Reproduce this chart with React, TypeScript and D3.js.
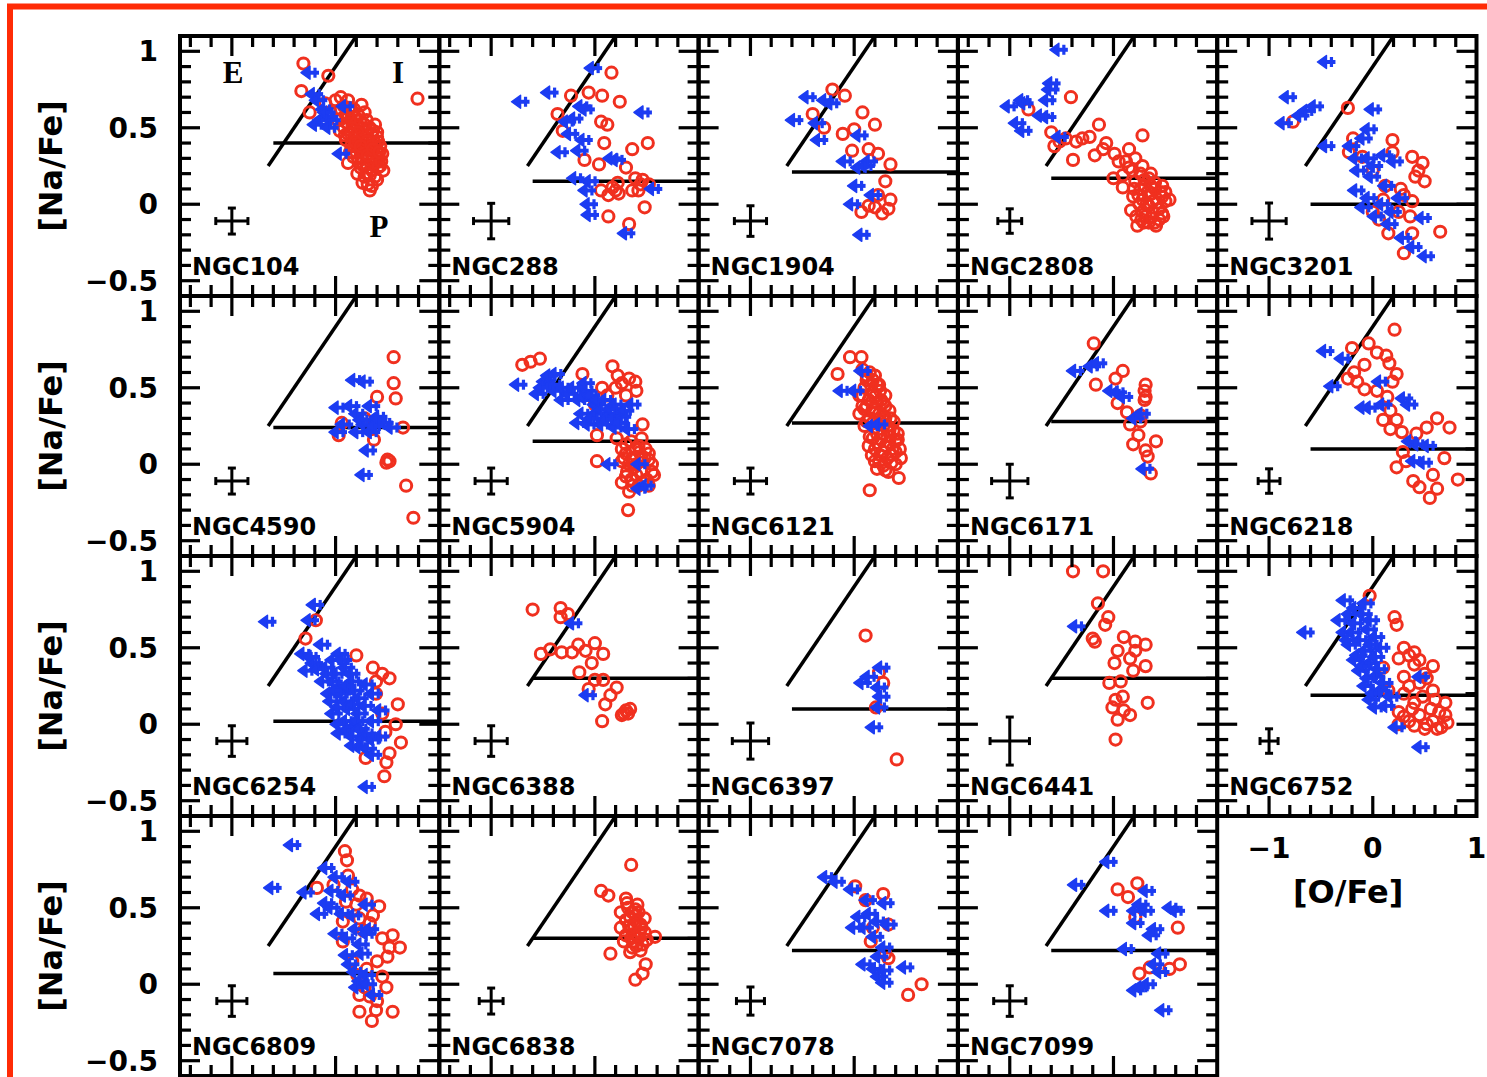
import React from "react";
import * as d3 from "d3";

// Page and grid geometry
const WIDTH = 1487;
const HEIGHT = 1077;
const GRID_LEFT = 180;
const GRID_TOP = 36;
const CELL_W = 259.3;
const CELL_H = 260;
const COLS = 5;

// Axis domains and ticks
const xDomain: [number, number] = [-1.5, 1];
const yDomain: [number, number] = [-0.6, 1.1];
const xMajorTicks = [-1, 0];
const xMinorTicks = [-1.4, -1.2, -0.8, -0.6, -0.4, -0.2, 0.2, 0.4, 0.6, 0.8];
const yMajorTicks = [-0.5, 0, 0.5, 1];
const yMinorTicks = [-0.4, -0.3, -0.2, -0.1, 0.1, 0.2, 0.3, 0.4, 0.6, 0.7, 0.8, 0.9];
const yTickLabels = ["\u22120.5", "0", "0.5", "1"];
const xTickValues = [-1, 0, 1];
const xTickLabels = ["\u22121", "0", "1"];

// PIE boundaries: extreme stars have [O/Na] < -0.9; the E line starts at [O/Fe] = -0.65
const oNaExtremeCut = -0.9;
const eLineStartO = -0.65;
const pLineStartO = -0.6;
const errCrossCenter: [number, number] = [-1, -0.11];

const clusterNames = [
  "NGC104", "NGC288", "NGC1904", "NGC2808", "NGC3201",
  "NGC4590", "NGC5904", "NGC6121", "NGC6171", "NGC6218",
  "NGC6254", "NGC6388", "NGC6397", "NGC6441", "NGC6752",
  "NGC6809", "NGC6838", "NGC7078", "NGC7099",
];
// Primordial upper boundary in [Na/Fe] per cluster
const naPrimordialCut = [0.40, 0.15, 0.21, 0.17, 0.0, 0.24, 0.15, 0.27, 0.28, 0.10, 0.02, 0.30, 0.10, 0.30, 0.19, 0.07, 0.30, 0.22, 0.22];
// Typical errors (half-widths) in [O/Fe] and [Na/Fe]
const errOFe = [0.155, 0.17, 0.155, 0.115, 0.165, 0.155, 0.155, 0.155, 0.175, 0.105, 0.145, 0.155, 0.175, 0.19, 0.087, 0.145, 0.115, 0.135, 0.155];
const errNaFe = [0.085, 0.116, 0.1, 0.08, 0.118, 0.085, 0.085, 0.085, 0.11, 0.08, 0.1, 0.1, 0.118, 0.157, 0.08, 0.1, 0.085, 0.092, 0.1];

type P = [number, number];

// [O/Fe], [Na/Fe] for stars with O detections (red) and O upper limits (blue)
const ngc104Det: P[] = [[-0.31,0.92],[-0.07,0.84],[-0.33,0.74],[0.79,0.69],[0.12,0.68],[0.28,0.60],[-0.25,0.60],[0.33,0.09],[0.40,0.16],[0.43,0.25],[0.43,0.38],[0.40,0.44],[0.17,0.31],[0.12,0.27],[0.21,0.20],[0.05,0.62],[0.10,0.58],[0.15,0.55],[0.20,0.52],[0.25,0.50],[0.30,0.48],[0.35,0.45],[0.08,0.50],[0.12,0.46],[0.18,0.44],[0.22,0.40],[0.28,0.38],[0.32,0.35],[0.36,0.30],[0.20,0.34],[0.25,0.30],[0.30,0.26],[0.35,0.22],[0.28,0.18],[0.15,0.38],[0.10,0.42],[0.02,0.55],[-0.05,0.60],[0.00,0.68],[0.05,0.70],[-0.10,0.66],[0.22,0.58],[0.30,0.55],[0.38,0.52],[0.40,0.35],[0.33,0.42],[0.27,0.45],[0.38,0.40],[0.42,0.30],[0.24,0.24],[0.31,0.13],[0.45,0.33],[0.46,0.22],[0.18,0.62],[0.25,0.65],
  [0.08,0.64],[0.13,0.63],[0.18,0.57],[0.24,0.55],[0.28,0.52],[0.33,0.50],[0.36,0.48],[0.40,0.47],[0.06,0.56],[0.11,0.53],[0.16,0.50],[0.21,0.47],[0.26,0.42],[0.30,0.41],[0.35,0.38],[0.41,0.41],[0.14,0.34],[0.18,0.38],[0.23,0.36],[0.27,0.33],[0.32,0.30],[0.37,0.27],[0.41,0.24],[0.22,0.28],[0.27,0.25],[0.33,0.19],[0.38,0.18],[0.26,0.14],[0.35,0.12],[0.30,0.20],[0.44,0.28],[0.04,0.48],[0.09,0.45],[0.15,0.46],[0.19,0.41],[0.24,0.38],[0.31,0.32],[0.36,0.36],[0.42,0.34],[0.12,0.58]];
const ngc104Lim: P[] = [[-0.16,0.86],[-0.12,0.72],[-0.10,0.52],[0.18,0.64],[0.02,0.57],[-0.02,0.62],[0.05,0.55],[0.14,0.33],[-0.05,0.55],[0.00,0.60],[-0.08,0.68],[0.03,0.50]];

const ngc288Det: P[] = [[0.16,0.86],[-0.23,0.71],[-0.06,0.73],[0.07,0.71],[0.24,0.67],[-0.36,0.59],[0.06,0.54],[0.12,0.52],[-0.31,0.48],[0.09,0.40],[0.36,0.36],[0.51,0.40],[-0.10,0.29],[0.30,0.24],[0.04,0.26],[0.39,0.17],[0.46,0.16],[0.17,0.11],[0.23,0.07],[0.13,0.06],[0.36,0.09],[0.42,0.09],[0.52,0.13],[0.48,-0.02],[0.13,-0.08],[0.33,-0.13],[0.06,0.09],[0.22,0.14],[0.44,0.13],[0.20,0.09]];
const ngc288Lim: P[] = [[0.07,0.89],[-0.63,0.67],[-0.35,0.73],[-0.04,0.64],[0.00,0.62],[0.55,0.60],[-0.11,0.56],[-0.18,0.54],[-0.15,0.46],[-0.02,0.42],[-0.25,0.34],[-0.06,0.35],[0.30,0.29],[0.25,0.30],[-0.10,0.17],[0.04,0.15],[0.01,0.09],[0.65,0.10],[0.03,0.00],[0.04,-0.07],[0.39,-0.19]];

const ngc1904Det: P[] = [[-0.21,0.75],[-0.09,0.71],[-0.40,0.59],[-0.29,0.50],[0.08,0.60],[0.20,0.52],[-0.11,0.46],[0.00,0.49],[0.14,0.36],[-0.02,0.35],[0.23,0.33],[0.35,0.26],[0.30,0.15],[0.35,0.03],[0.23,0.06],[0.14,-0.01],[0.33,-0.03],[0.07,-0.05],[0.27,-0.06],[0.20,-0.02]];
const ngc1904Lim: P[] = [[-0.36,0.70],[-0.19,0.68],[-0.13,0.66],[-0.49,0.55],[-0.27,0.53],[-0.25,0.42],[0.14,0.45],[0.00,0.28],[0.23,0.28],[0.20,0.25],[0.14,0.24],[0.11,0.12],[0.27,0.06],[0.07,0.00],[0.16,-0.20]];

const ngc2808Det: P[] = [[-0.41,0.70],[-0.82,0.62],[-0.60,0.47],[-0.57,0.38],[-0.14,0.52],[-0.39,0.29],[-0.36,0.41],[-0.23,0.44],[-0.18,0.32],[-0.07,0.40],[0.01,0.33],[0.00,0.17],[0.15,0.36],[0.28,0.45],[0.21,0.30],[0.28,0.25],[0.15,0.24],[0.09,0.19],[0.21,0.15],[0.34,0.17],[0.47,0.12],[0.54,0.03],[0.47,-0.06],[0.41,-0.14],[0.23,-0.14],[0.17,-0.04],[0.28,0.03],[0.34,-0.01],[0.26,0.10],[0.37,0.07],[0.19,0.05],[0.42,0.01],[0.31,-0.08],[0.47,0.05],[0.09,0.11],[0.34,-0.12],[-0.52,0.41],[-0.46,0.43],[-0.30,0.43],[0.25,0.00],[0.38,-0.05],[0.30,0.12],[0.40,0.10],[0.22,-0.08],[0.44,-0.10],[0.36,0.20],[0.12,0.28],[-0.10,0.36],[0.05,0.28],
  [0.30,0.16],[0.40,0.14],[0.45,0.08],[0.50,0.02],[0.44,-0.03],[0.38,0.02],[0.32,0.00],[0.28,-0.05],[0.36,-0.09],[0.29,-0.12],[0.40,-0.12],[0.48,-0.08],[0.33,0.08],[0.24,0.06],[0.20,0.10],[0.26,0.20],[0.18,0.22],[0.36,0.12],[0.50,0.08],[0.27,-0.10]];
const ngc2808Lim: P[] = [[-0.44,1.01],[-0.51,0.79],[-0.55,0.68],[-0.52,0.75],[-0.77,0.66],[-0.92,0.64],[-0.84,0.53],[-0.78,0.48],[-0.55,0.57],[-0.61,0.58],[-0.43,0.44],[-0.79,0.68]];

const ngc3201Det: P[] = [[-0.24,0.63],[-0.77,0.54],[-0.23,0.34],[-0.19,0.43],[0.19,0.42],[0.38,0.31],[0.48,0.27],[0.50,0.15],[0.41,0.18],[0.27,0.10],[0.38,0.02],[0.25,-0.05],[0.10,0.03],[0.00,-0.05],[0.65,-0.18],[0.38,-0.19],[0.30,-0.32],[0.06,-0.10],[0.15,-0.19],[-0.10,0.31],[0.00,0.22],[0.12,0.12],[0.36,-0.08],[0.19,0.34],[0.30,0.06],[0.44,0.22]];
const ngc3201Lim: P[] = [[-0.36,0.93],[-0.73,0.70],[-0.77,0.53],[-0.55,0.61],[-0.61,0.58],[-0.47,0.64],[0.09,0.62],[-0.36,0.38],[0.05,0.49],[0.00,0.43],[-0.12,0.38],[-0.07,0.30],[0.05,0.30],[0.20,0.32],[0.30,0.28],[-0.05,0.22],[0.08,0.18],[-0.07,0.09],[0.05,0.04],[0.18,0.00],[0.00,-0.02],[0.12,-0.08],[0.25,-0.13],[0.38,-0.22],[0.57,-0.09],[0.60,-0.34],[0.48,-0.28],[0.22,0.12],[0.35,0.04],[0.10,0.25],[0.28,-0.05]];

const ngc4590Det: P[] = [[0.56,0.70],[0.56,0.53],[0.58,0.43],[0.40,0.44],[0.06,0.27],[0.03,0.19],[0.37,0.16],[0.52,0.02],[0.49,0.01],[0.50,0.03],[0.68,-0.14],[0.75,-0.35],[0.65,0.24],[0.28,0.30]];
const ngc4590Lim: P[] = [[0.27,0.55],[0.37,0.54],[0.11,0.37],[0.24,0.38],[0.43,0.38],[0.30,0.33],[0.50,0.31],[0.56,0.27],[0.37,0.26],[0.63,0.24],[0.17,0.26],[0.43,0.21],[0.30,0.21],[0.11,0.21],[0.40,0.09],[0.36,-0.07],[0.50,0.29],[0.46,0.25],[0.34,0.29]];

const ngc5904Det: P[] = [[-0.70,0.65],[-0.62,0.67],[-0.53,0.69],[-0.12,0.59],[0.17,0.64],[0.22,0.58],[0.33,0.56],[0.39,0.54],[0.26,0.53],[0.07,0.50],[0.46,0.26],[0.02,0.19],[0.21,0.17],[0.45,0.17],[0.02,0.02],[0.26,0.10],[0.39,0.10],[0.49,0.10],[0.26,0.02],[0.36,0.04],[0.52,0.07],[0.55,0.00],[0.31,-0.05],[0.45,-0.05],[0.57,-0.07],[0.33,-0.18],[0.42,-0.14],[0.32,-0.30],[0.26,-0.12],[0.52,-0.14],[0.00,0.39],[0.17,0.35],[0.30,0.13],[0.40,0.00],[0.35,-0.10],[0.50,-0.10],[0.45,0.05],[0.30,0.07],[0.38,-0.02],[0.12,0.45],[0.30,0.45],[0.40,0.48],[0.20,0.50],
  [0.35,0.15],[0.42,0.12],[0.48,0.04],[0.33,0.00],[0.40,-0.07],[0.46,-0.12],[0.36,-0.14],[0.30,-0.08],[0.52,0.03],[0.43,0.08],[0.28,0.04],[0.55,-0.05]];
const ngc5904Lim: P[] = [[-0.65,0.52],[-0.29,0.59],[-0.39,0.54],[-0.46,0.46],[-0.29,0.48],[-0.16,0.46],[-0.22,0.42],[-0.06,0.42],[0.01,0.48],[0.10,0.39],[0.19,0.42],[0.29,0.39],[0.45,0.39],[-0.03,0.33],[0.10,0.33],[0.23,0.33],[0.35,0.31],[0.03,0.26],[0.16,0.26],[0.29,0.24],[0.42,0.23],[-0.07,0.27],[0.00,0.53],[0.23,0.00],[0.52,0.00],[0.58,-0.14],[0.52,-0.16],[-0.22,0.50],[-0.35,0.58],
  [-0.12,0.50],[-0.02,0.44],[0.05,0.45],[0.15,0.36],[0.25,0.36],[0.38,0.35],[0.06,0.30],[0.20,0.29],[0.33,0.27],[-0.30,0.52],[-0.42,0.50],[0.12,0.42]];

const ngc6121Det: P[] = [[-0.04,0.70],[0.07,0.70],[-0.16,0.59],[0.15,-0.17],[0.43,-0.09],[0.40,0.00],[0.18,0.17],[0.14,0.12],[0.08,0.62],[0.15,0.60],[0.20,0.58],[0.12,0.55],[0.22,0.52],[0.25,0.48],[0.10,0.50],[0.18,0.47],[0.26,0.42],[0.14,0.42],[0.22,0.40],[0.30,0.38],[0.10,0.36],[0.20,0.34],[0.28,0.32],[0.35,0.30],[0.15,0.30],[0.25,0.28],[0.32,0.25],[0.38,0.22],[0.20,0.24],[0.28,0.20],[0.35,0.18],[0.40,0.15],[0.22,0.14],[0.30,0.12],[0.37,0.10],[0.25,0.06],[0.32,0.04],[0.20,0.02],[0.28,-0.01],[0.33,-0.05],[0.17,0.06],[0.10,0.25],[0.05,0.33],[0.30,0.45],[0.05,0.45],[0.44,0.10],[0.42,0.20],[0.45,0.04],
  [0.12,0.58],[0.18,0.55],[0.24,0.52],[0.16,0.52],[0.08,0.45],[0.20,0.44],[0.28,0.40],[0.34,0.35],[0.12,0.38],[0.18,0.36],[0.24,0.33],[0.30,0.30],[0.38,0.28],[0.12,0.28],[0.18,0.27],[0.22,0.20],[0.34,0.22],[0.42,0.16],[0.26,0.16],[0.34,0.14],[0.20,0.10],[0.28,0.08],[0.36,0.06],[0.40,0.08],[0.24,0.02],[0.36,0.01],[0.30,-0.04],[0.22,-0.03],[0.15,0.18],[0.08,0.38]];
const ngc6121Lim: P[] = [[0.17,0.61],[0.10,0.48],[-0.03,0.48],[0.33,0.26],[0.26,0.25]];

const ngc6171Det: P[] = [[-0.19,0.79],[-0.17,0.52],[0.09,0.61],[0.02,0.56],[0.31,0.52],[0.30,0.48],[0.31,0.44],[0.30,0.42],[0.04,0.40],[0.13,0.34],[0.26,0.32],[0.16,0.26],[0.26,0.28],[0.41,0.15],[0.19,0.13],[0.31,0.09],[0.33,0.05],[0.36,-0.06],[0.24,0.19]];
const ngc6171Lim: P[] = [[-0.28,0.61],[-0.12,0.64],[-0.06,0.66],[0.13,0.47],[0.19,0.44],[0.07,0.48],[0.30,0.30],[0.36,0.33],[0.39,-0.03]];

const ngc6218Det: P[] = [[0.21,0.88],[-0.04,0.79],[-0.20,0.76],[0.04,0.73],[0.13,0.71],[0.16,0.66],[-0.08,0.65],[0.23,0.59],[-0.18,0.60],[-0.24,0.56],[-0.15,0.54],[0.19,0.54],[-0.08,0.49],[0.04,0.48],[0.14,0.44],[0.17,0.35],[0.10,0.29],[0.23,0.29],[0.17,0.23],[0.28,0.21],[0.62,0.30],[0.74,0.24],[0.52,0.24],[0.42,0.20],[0.69,0.04],[0.23,-0.02],[0.82,-0.10],[0.58,-0.07],[0.55,-0.22],[0.45,-0.15],[0.62,-0.16],[0.39,-0.11],[0.32,0.02],[0.29,0.08]];
const ngc6218Lim: P[] = [[-0.37,0.74],[-0.20,0.69],[-0.30,0.51],[0.16,0.54],[0.06,0.37],[0.19,0.39],[0.39,0.43],[0.44,0.39],[0.00,0.37],[0.62,0.12],[0.52,0.13],[0.45,0.15],[0.58,0.01],[0.49,0.02]];

const ngc6254Det: P[] = [[-0.19,0.68],[-0.29,0.56],[0.20,0.45],[0.36,0.37],[0.45,0.33],[0.39,0.28],[0.60,0.13],[0.58,0.00],[0.63,-0.12],[0.52,-0.19],[0.49,-0.25],[0.47,-0.34],[0.29,-0.22],[0.39,0.20],[0.45,0.07],[0.52,0.30],[0.48,-0.05]];
const ngc6254Lim: P[] = [[-0.11,0.78],[-0.57,0.67],[-0.16,0.68],[-0.04,0.52],[-0.22,0.46],[-0.19,0.35],[-0.12,0.40],[0.13,0.46],[0.07,0.42],[0.19,0.37],[0.26,0.28],[0.13,0.24],[0.03,0.20],[0.19,0.15],[0.32,0.17],[0.07,0.07],[0.19,0.02],[0.32,0.07],[0.45,0.02],[0.13,-0.06],[0.26,-0.08],[0.39,-0.06],[0.52,-0.08],[0.32,-0.15],[0.45,-0.20],[0.39,0.26],[0.45,0.20],[-0.03,0.28],[0.26,-0.02],[0.07,0.28],[0.39,-0.41],[0.52,0.09],[0.10,0.33],[0.00,0.37],[0.22,0.10],[0.35,-0.10],
  [0.02,0.33],[0.16,0.42],[0.24,0.33],[0.28,0.22],[0.15,0.20],[0.05,0.15],[0.12,0.11],[0.26,0.13],[0.38,0.12],[0.30,0.02],[0.12,0.00],[0.20,-0.04],[0.33,-0.03],[0.45,-0.10],[0.26,-0.14],[0.40,-0.16],[0.09,0.22],[-0.08,0.36],[-0.15,0.44],[0.20,0.25]];

const ngc6388Det: P[] = [[-0.60,0.75],[-0.33,0.76],[-0.33,0.70],[-0.26,0.72],[-0.52,0.46],[-0.43,0.49],[-0.32,0.47],[-0.22,0.47],[-0.16,0.52],[0.00,0.53],[0.08,0.46],[-0.03,0.40],[-0.15,0.34],[0.00,0.29],[0.08,0.29],[-0.06,0.23],[0.21,0.24],[0.15,0.19],[0.10,0.13],[0.34,0.10],[0.26,0.06],[0.32,0.07],[0.07,0.02],[-0.09,0.48],[0.30,0.09],[0.28,0.07]];
const ngc6388Lim: P[] = [[-0.12,0.66],[0.02,0.19]];

const ngc6397Det: P[] = [[0.11,0.58],[0.28,0.27],[0.24,0.34],[0.21,0.11],[0.41,-0.23]];
const ngc6397Lim: P[] = [[0.35,0.37],[0.17,0.27],[0.33,0.24],[0.35,0.18],[0.33,0.11],[0.28,-0.02],[0.23,0.31]];

const ngc6441Det: P[] = [[-0.39,1.00],[-0.10,1.00],[-0.15,0.79],[-0.05,0.70],[-0.08,0.65],[-0.20,0.56],[-0.18,0.54],[0.10,0.57],[0.21,0.54],[0.31,0.52],[0.04,0.48],[0.21,0.48],[0.16,0.43],[0.01,0.40],[0.31,0.38],[0.19,0.35],[-0.04,0.27],[0.07,0.28],[0.09,0.18],[0.02,0.16],[0.33,0.14],[-0.01,0.11],[0.10,0.09],[0.16,0.06],[0.04,0.03],[0.02,-0.10]];
const ngc6441Lim: P[] = [[-0.27,0.64]];

const ngc6752Det: P[] = [[-0.03,0.84],[0.21,0.70],[0.23,0.65],[0.30,0.50],[0.40,0.47],[0.25,0.43],[0.40,0.39],[0.58,0.38],[0.50,0.33],[0.30,0.31],[0.45,0.27],[0.58,0.22],[0.30,0.20],[0.40,0.14],[0.70,0.14],[0.56,0.10],[0.25,0.08],[0.45,0.06],[0.70,0.06],[0.35,0.02],[0.58,0.02],[0.25,0.00],[0.72,0.01],[0.62,-0.03],[0.50,-0.03],[0.10,0.37],[0.15,0.22],
  [0.35,0.45],[0.45,0.42],[0.52,0.30],[0.35,0.25],[0.48,0.18],[0.60,0.16],[0.38,0.10],[0.64,0.08],[0.30,0.05],[0.52,0.00],[0.40,-0.01],[0.66,-0.02]];
const ngc6752Lim: P[] = [[-0.56,0.60],[-0.18,0.81],[-0.08,0.76],[0.02,0.79],[-0.23,0.68],[-0.08,0.66],[0.07,0.68],[-0.18,0.60],[-0.03,0.55],[0.12,0.57],[-0.13,0.52],[0.02,0.48],[0.17,0.50],[-0.08,0.42],[0.07,0.40],[-0.03,0.35],[0.12,0.31],[0.02,0.25],[0.17,0.22],[0.07,0.16],[0.27,0.18],[0.55,0.31],[0.32,-0.02],[0.55,-0.15],
  [-0.13,0.72],[0.00,0.72],[-0.10,0.60],[0.05,0.62],[-0.15,0.55],[0.08,0.52],[-0.05,0.45],[0.12,0.44],[0.00,0.38],[0.15,0.36],[0.05,0.30],[0.20,0.27],[0.10,0.20],[0.22,0.12],[0.12,0.11]];

const ngc6809Det: P[] = [[0.09,0.87],[0.11,0.81],[0.12,0.71],[-0.02,0.65],[-0.18,0.63],[0.16,0.62],[0.23,0.58],[0.10,0.54],[0.42,0.51],[0.36,0.45],[0.23,0.43],[0.07,0.41],[0.55,0.32],[0.62,0.24],[0.52,0.24],[0.07,0.28],[0.16,0.15],[0.40,0.15],[0.21,0.06],[0.49,-0.02],[0.28,-0.02],[0.23,-0.07],[0.40,-0.11],[0.23,-0.18],[0.39,-0.17],[0.55,-0.18],[0.35,-0.24],
  [0.20,0.52],[0.30,0.56],[0.33,0.40],[0.27,0.35],[0.45,0.30],[0.50,0.18],[0.30,0.10],[0.45,0.05],[0.33,-0.08]];
const ngc6809Lim: P[] = [[-0.33,0.91],[-0.52,0.63],[0.00,0.76],[-0.20,0.60],[0.00,0.53],[0.06,0.61],[-0.07,0.46],[0.23,0.67],[0.39,0.52],[0.16,0.46],[0.29,0.36],[0.10,0.33],[0.39,0.33],[0.33,0.26],[0.20,0.19],[0.23,0.13],[0.33,0.02],[0.30,-0.02],[0.46,-0.07],[0.39,0.06],[0.42,0.36],
  [0.10,0.70],[0.18,0.58],[0.05,0.50],[0.26,0.45],[0.20,0.30],[0.35,0.20],[0.28,0.08],[0.40,0.00]];

const ngc6838Det: P[] = [[0.35,0.78],[0.06,0.61],[0.13,0.58],[0.30,0.56],[0.41,0.52],[0.25,0.47],[0.39,0.45],[0.48,0.43],[0.30,0.42],[0.44,0.39],[0.35,0.36],[0.48,0.34],[0.30,0.32],[0.58,0.31],[0.37,0.28],[0.46,0.26],[0.15,0.20],[0.34,0.21],[0.49,0.13],[0.46,0.07],[0.39,0.03],[0.25,0.37],[0.39,0.49],
  [0.32,0.50],[0.36,0.47],[0.42,0.47],[0.34,0.44],[0.40,0.41],[0.45,0.37],[0.33,0.38],[0.38,0.33],[0.42,0.30],[0.35,0.30],[0.40,0.25],[0.36,0.24],[0.44,0.22],[0.28,0.28],[0.50,0.29],[0.31,0.53],[0.38,0.38],[0.43,0.34]];
const ngc6838Lim: P[] = [];

const ngc7078Det: P[] = [[0.01,0.64],[0.28,0.59],[0.11,0.55],[0.33,0.39],[0.18,0.37],[0.16,0.28],[0.30,0.20],[0.33,0.17],[0.65,0.00],[0.52,-0.07]];
const ngc7078Lim: P[] = [[-0.18,0.70],[-0.08,0.67],[0.07,0.62],[0.22,0.55],[0.39,0.53],[0.24,0.46],[0.14,0.44],[0.32,0.41],[0.42,0.39],[0.19,0.37],[0.09,0.37],[0.29,0.31],[0.38,0.24],[0.33,0.18],[0.19,0.13],[0.29,0.10],[0.38,0.09],[0.58,0.11],[0.33,0.05],[0.38,0.01]];

const ngc7099Det: P[] = [[0.23,0.66],[0.04,0.62],[0.14,0.57],[0.21,0.44],[0.62,0.37],[0.64,0.13],[0.35,0.11],[0.25,0.07],[0.54,0.10]];
const ngc7099Lim: P[] = [[0.04,0.80],[-0.27,0.65],[0.41,0.61],[0.04,0.48],[0.35,0.52],[0.30,0.48],[0.40,0.48],[0.64,0.50],[0.69,0.48],[0.30,0.40],[0.49,0.36],[0.45,0.32],[0.21,0.23],[0.54,0.20],[0.49,0.13],[0.54,0.08],[0.42,0.00],[0.30,-0.04],[0.57,-0.17],[0.35,-0.02]];

const detections: P[][] = [ngc104Det, ngc288Det, ngc1904Det, ngc2808Det, ngc3201Det, ngc4590Det, ngc5904Det, ngc6121Det, ngc6171Det, ngc6218Det, ngc6254Det, ngc6388Det, ngc6397Det, ngc6441Det, ngc6752Det, ngc6809Det, ngc6838Det, ngc7078Det, ngc7099Det];
const upperLimits: P[][] = [ngc104Lim, ngc288Lim, ngc1904Lim, ngc2808Lim, ngc3201Lim, ngc4590Lim, ngc5904Lim, ngc6121Lim, ngc6171Lim, ngc6218Lim, ngc6254Lim, ngc6388Lim, ngc6397Lim, ngc6441Lim, ngc6752Lim, ngc6809Lim, ngc6838Lim, ngc7078Lim, ngc7099Lim];

const RED = "#f0301f";
const BLUE = "#1c3cf2";
const INK = "#000";
const LABEL_FONT = "'DejaVu Sans', 'Noto Sans', sans-serif";

const x = d3.scaleLinear().domain(xDomain).range([0, CELL_W]);
const y = d3.scaleLinear().domain(yDomain).range([CELL_H, 0]);

// Left-pointing upper-limit arrow, anchored at its right end
const arrowPath = "M-18,0 L-9,-6.5 L-9,6.5 Z";

function Panel({ i }: { i: number }) {
  const col = i % COLS;
  const row = Math.floor(i / COLS);
  const left = GRID_LEFT + col * CELL_W;
  const top = GRID_TOP + row * CELL_H;
  const major = 20;
  const minor = 11;
  const eTopO = yDomain[1] + oNaExtremeCut;
  const cut = naPrimordialCut[i];
  const [cx, cy] = errCrossCenter;
  const ex = errOFe[i];
  const ey = errNaFe[i];
  const cap = 4;

  return (
    <g transform={`translate(${left},${top})`}>
      {/* PIE separation lines */}
      <line x1={x(eLineStartO)} y1={y(eLineStartO - oNaExtremeCut)} x2={x(eTopO)} y2={y(yDomain[1])} stroke={INK} strokeWidth={3.5} />
      <line x1={x(pLineStartO)} y1={y(cut)} x2={x(xDomain[1])} y2={y(cut)} stroke={INK} strokeWidth={3.5} />

      {/* stars with O detections */}
      {detections[i].map(([o, na], k) => (
        <circle key={`d${k}`} cx={x(o)} cy={y(na)} r={5.6} fill="none" stroke={RED} strokeWidth={3} />
      ))}
      {/* stars with O upper limits */}
      {upperLimits[i].map(([o, na], k) => (
        <g key={`l${k}`} transform={`translate(${x(o)},${y(na)})`} fill={BLUE} stroke={BLUE}>
          <path d={arrowPath} strokeWidth={1.5} strokeLinejoin="round" />
          <line x1={-10} y1={0} x2={0} y2={0} strokeWidth={4} />
          <line x1={-4} y1={-5} x2={-4} y2={5} strokeWidth={3.2} />
        </g>
      ))}

      {/* error cross */}
      <g stroke={INK} strokeWidth={3}>
        <line x1={x(cx - ex)} y1={y(cy)} x2={x(cx + ex)} y2={y(cy)} />
        <line x1={x(cx)} y1={y(cy - ey)} x2={x(cx)} y2={y(cy + ey)} />
        <line x1={x(cx - ex)} y1={y(cy) - cap} x2={x(cx - ex)} y2={y(cy) + cap} />
        <line x1={x(cx + ex)} y1={y(cy) - cap} x2={x(cx + ex)} y2={y(cy) + cap} />
        <line x1={x(cx) - cap} y1={y(cy - ey)} x2={x(cx) + cap} y2={y(cy - ey)} />
        <line x1={x(cx) - cap} y1={y(cy + ey)} x2={x(cx) + cap} y2={y(cy + ey)} />
      </g>

      <text x={12} y={239} fontFamily={LABEL_FONT} fontWeight="bold" fontSize={24} fill={INK}>
        {clusterNames[i]}
      </text>

      {i === 0 && (
        <g fontFamily="'Liberation Serif', 'DejaVu Serif', serif" fontWeight="bold" fontSize={31} fill={INK} textAnchor="middle">
          <text x={53} y={47}>E</text>
          <text x={218} y={47}>I</text>
          <text x={199} y={201}>P</text>
        </g>
      )}

      {/* frame and inward ticks on all four sides */}
      <g stroke={INK} strokeWidth={3.2}>
        {xMajorTicks.map((t) => (
          <g key={`xM${t}`}>
            <line x1={x(t)} y1={0} x2={x(t)} y2={major} />
            <line x1={x(t)} y1={CELL_H} x2={x(t)} y2={CELL_H - major} />
          </g>
        ))}
        {xMinorTicks.map((t) => (
          <g key={`xm${t}`}>
            <line x1={x(t)} y1={0} x2={x(t)} y2={minor} />
            <line x1={x(t)} y1={CELL_H} x2={x(t)} y2={CELL_H - minor} />
          </g>
        ))}
        {yMajorTicks.map((t) => (
          <g key={`yM${t}`}>
            <line x1={0} y1={y(t)} x2={major} y2={y(t)} />
            <line x1={CELL_W} y1={y(t)} x2={CELL_W - major} y2={y(t)} />
          </g>
        ))}
        {yMinorTicks.map((t) => (
          <g key={`ym${t}`}>
            <line x1={0} y1={y(t)} x2={minor} y2={y(t)} />
            <line x1={CELL_W} y1={y(t)} x2={CELL_W - minor} y2={y(t)} />
          </g>
        ))}
      </g>
      <rect x={0} y={0} width={CELL_W} height={CELL_H} fill="none" stroke={INK} strokeWidth={4} />
    </g>
  );
}

export default function App() {
  const rows = Math.ceil(clusterNames.length / COLS);
  const legendLeft = GRID_LEFT + (COLS - 1) * CELL_W;
  const legendTop = GRID_TOP + (rows - 1) * CELL_H;

  return (
    <svg width={WIDTH} height={HEIGHT} viewBox={`0 0 ${WIDTH} ${HEIGHT}`}
      style={{ position: "absolute", left: 0, top: 0, background: "#fff" }}>
      <rect x={0} y={0} width={WIDTH} height={HEIGHT} fill="#fff" />

      {clusterNames.map((_, i) => <Panel key={i} i={i} />)}

      {/* y tick labels and axis titles per row */}
      {d3.range(rows).map((r) => {
        const top = GRID_TOP + r * CELL_H;
        return (
          <g key={`row${r}`} fontFamily={LABEL_FONT} fontWeight="bold" fill={INK}>
            {yMajorTicks.map((t, k) => (
              <text key={t} x={158} y={top + y(t)} dy="0.36em" textAnchor="end" fontSize={28}>
                {yTickLabels[k]}
              </text>
            ))}
            <text transform={`translate(62,${top + CELL_H / 2}) rotate(-90)`} textAnchor="middle" fontSize={32}>
              [Na/Fe]
            </text>
          </g>
        );
      })}

      {/* x axis labels in the free cell */}
      <g fontFamily={LABEL_FONT} fontWeight="bold" fill={INK} textAnchor="middle">
        {xTickValues.map((t, k) => (
          <text key={t} x={legendLeft + x(t)} y={legendTop + 42} fontSize={28}>
            {xTickLabels[k]}
          </text>
        ))}
        <text x={legendLeft + 131} y={legendTop + 87} fontSize={32}>[O/Fe]</text>
      </g>

      {/* highlight frame */}
      <rect x={10} y={6.5} width={WIDTH + 20} height={HEIGHT + 20} fill="none" stroke="#ff2b06" strokeWidth={6} />
    </svg>
  );
}
